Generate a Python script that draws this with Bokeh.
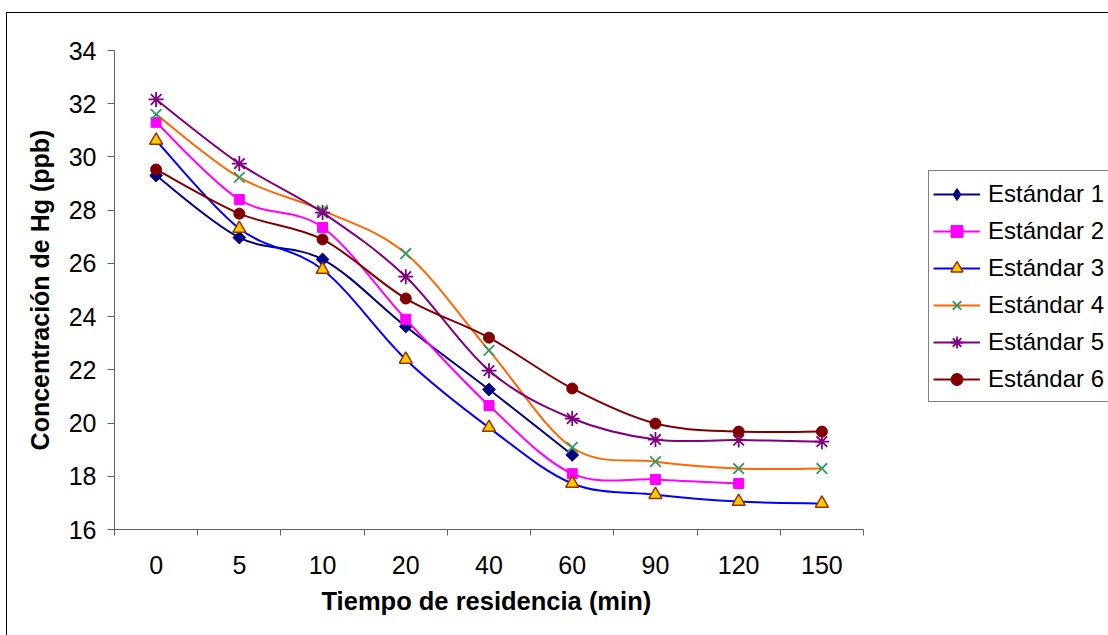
import math
from bokeh.plotting import figure
from bokeh.models import (Range1d, FixedTicker, Legend, LegendItem, ColumnDataSource,
                          InlineStyleSheet, Title)
from bokeh.embed import file_html
from bokeh.resources import INLINE

# ---------------- data ----------------
tiempos = ["0", "5", "10", "20", "40", "60", "90", "120", "150"]
est1 = [29.30, 26.97, 26.15, 23.63, 21.26, 18.80]
est2 = [31.30, 28.40, 27.35, 23.90, 20.66, 18.10, 17.88, 17.73]
est3 = [30.62, 27.31, 25.77, 22.39, 19.83, 17.73, 17.31, 17.05, 16.98]
est4 = [31.60, 29.23, 27.99, 26.37, 22.73, 19.08, 18.55, 18.29, 18.29]
est5 = [32.16, 29.75, 27.91, 25.50, 21.97, 20.17, 19.38, 19.36, 19.30]
est6 = [29.53, 27.87, 26.90, 24.68, 23.21, 21.30, 19.98, 19.68, 19.68]
y_ticks = [16, 18, 20, 22, 24, 26, 28, 30, 32, 34]

series = [
    ("Estándar 1", est1, dict(line="#000080", marker="square", angle=math.pi / 4, size=9,
                              fill="#000080", mline="#000080", mwidth=1, leg="diamond")),
    ("Estándar 2", est2, dict(line="#FF00FF", marker="square", angle=0, size=10,
                              fill="#FF00FF", mline="#FF00FF", mwidth=1, leg=None)),
    ("Estándar 3", est3, dict(line="#0000FF", marker="triangle", angle=0, size=13,
                              fill="#FFCC00", mline="#993300", mwidth=1.5, leg=None)),
    ("Estándar 4", est4, dict(line="#FF6600", marker="x", angle=0, size=15,
                              fill=None, mline="#339966", mwidth=1.8, leg=None)),
    ("Estándar 5", est5, dict(line="#800080", marker="asterisk", angle=0, size=15,
                              fill=None, mline="#800080", mwidth=1.8, leg=None)),
    ("Estándar 6", est6, dict(line="#800000", marker="circle", angle=0, size=11,
                              fill="#800000", mline="#800000", mwidth=1, leg=None)),
]

FONT = "Liberation Sans"

# plot area of the reference: x 114..863 px for the 9 categories, y 50..529 px for 16..34
W, H = 1108, 635
PLOT_L, PLOT_R = 114, 863
n_cat = len(tiempos)
# the frame is stretched to the page edge so the legend (to the right) is not clipped;
# the visible axis is limited with `bounds`
x_end = 0.5 + n_cat * (W - PLOT_L) / (PLOT_R - PLOT_L)

p = figure(width=W, height=H, output_backend="svg", toolbar_location=None,
           x_range=Range1d(0.5, x_end), y_range=Range1d(16, 34),
           min_border_left=PLOT_L, min_border_right=0, min_border_top=50,
           min_border_bottom=106)
p.outline_line_color = None
p.background_fill_color = "white"
p.border_fill_color = "white"
p.xgrid.visible = False
p.ygrid.visible = False

positions = list(range(1, n_cat + 1))


def smooth_segments(xs, ys):
    """Bezier control points for an Excel-style smoothed line through the points."""
    pts = list(zip(xs, ys))
    n = len(pts)
    d = dict(x0=[], y0=[], x1=[], y1=[], cx0=[], cy0=[], cx1=[], cy1=[])
    for i in range(n - 1):
        p0 = pts[i - 1] if i > 0 else pts[i]
        p1 = pts[i]
        p2 = pts[i + 1]
        p3 = pts[i + 2] if i + 2 < n else pts[i + 1]
        d["x0"].append(p1[0]); d["y0"].append(p1[1])
        d["x1"].append(p2[0]); d["y1"].append(p2[1])
        d["cx0"].append(p1[0] + (p2[0] - p0[0]) / 6.0)
        d["cy0"].append(p1[1] + (p2[1] - p0[1]) / 6.0)
        d["cx1"].append(p2[0] - (p3[0] - p1[0]) / 6.0)
        d["cy1"].append(p2[1] - (p3[1] - p1[1]) / 6.0)
    return d


items = []
for name, vals, st in series:
    xs = positions[:len(vals)]
    seg = ColumnDataSource(smooth_segments(xs, vals))
    p.bezier(x0="x0", y0="y0", x1="x1", y1="y1", cx0="cx0", cy0="cy0",
             cx1="cx1", cy1="cy1", source=seg, line_color=st["line"], line_width=2)
    leg_line = p.line(x=xs, y=vals, line_color=st["line"], line_width=2, visible=False)
    sc = p.scatter(x=xs, y=vals, marker=st["marker"], angle=st["angle"], size=st["size"],
                   fill_color=st["fill"], line_color=st["mline"], line_width=st["mwidth"])
    leg_rs = [leg_line, sc]
    if st["leg"]:
        leg_sc = p.scatter(x=xs, y=vals, marker=st["leg"], size=st["size"],
                           fill_color=st["fill"], line_color=st["mline"],
                           line_width=st["mwidth"], visible=False)
        leg_rs = [leg_line, leg_sc]
    items.append(LegendItem(label=name, renderers=leg_rs))

# ---------------- axes ----------------
AX = "#606060"
p.xaxis.bounds = (0.5, n_cat + 0.5)
p.xaxis.ticker = FixedTicker(ticks=positions,
                             minor_ticks=[x - 0.5 for x in positions] + [positions[-1] + 0.5])
p.xaxis.major_label_overrides = {pos: lab for pos, lab in zip(positions, tiempos)}
p.xaxis.major_tick_out = 0
p.xaxis.major_tick_in = 0
p.xaxis.minor_tick_out = 6
p.xaxis.minor_tick_in = 0
p.xaxis.minor_tick_line_color = AX
p.xaxis.axis_line_color = AX
p.xaxis.major_label_standoff = 20

p.yaxis.ticker = FixedTicker(ticks=y_ticks)
p.yaxis.minor_tick_line_color = None
p.yaxis.major_tick_out = 7
p.yaxis.major_tick_in = 0
p.yaxis.major_tick_line_color = AX
p.yaxis.axis_line_color = AX
p.yaxis.major_label_standoff = 11
p.yaxis.axis_label = "Concentración de Hg (ppb)"
p.yaxis.axis_label_standoff = 12

for ax in (p.xaxis, p.yaxis):
    ax.major_label_text_font = FONT
    ax.major_label_text_font_size = "25px"
    ax.major_label_text_color = "black"
    ax.axis_label_text_font = FONT
    ax.axis_label_text_font_size = "25px"
    ax.axis_label_text_font_style = "bold"
    ax.axis_label_text_color = "black"

# x-axis title, centred under the visible plot area (not under the stretched frame)
xtitle = Title(text="Tiempo de residencia (min)", align="left", offset=207,
               text_font=FONT, text_font_size="25.5px", text_font_style="bold",
               text_color="black", standoff=16)
p.add_layout(xtitle, "below")

# ---------------- legend ----------------
legend = Legend(items=items, location=(928 - PLOT_L, 127), orientation="vertical",
                label_text_font=FONT, label_text_font_size="24px",
                label_text_color="black",
                glyph_width=47, glyph_height=30, label_height=37, label_width=125,
                label_standoff=8, spacing=0, padding=4, margin=0,
                border_line_color="black", border_line_width=1,
                background_fill_color="white", background_fill_alpha=1.0)
p.add_layout(legend, "center")

# ---------------- outer chart border (Excel chart area) ----------------
p.stylesheets = [InlineStyleSheet(css="""
:host { overflow: hidden; }
:host::after {
  content: "";
  position: absolute;
  left: 6px; top: 12px; width: 3000px; height: 3000px;
  border-left: 1px solid black;
  border-top: 1px solid black;
  pointer-events: none;
}
""")]

open("out.html", "w").write(file_html(p, INLINE))
